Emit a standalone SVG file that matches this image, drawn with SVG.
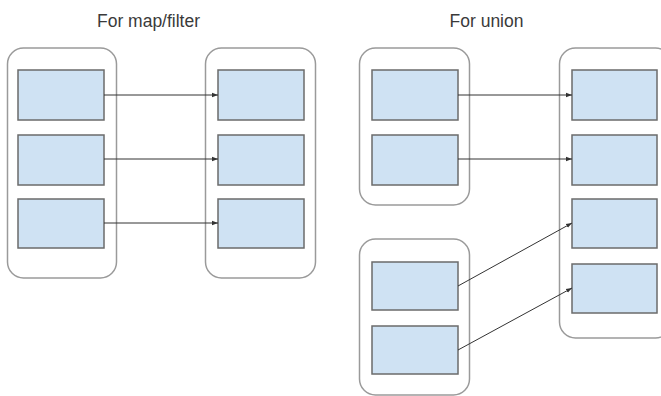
<svg xmlns="http://www.w3.org/2000/svg" width="661" height="396" viewBox="0 0 661 396">
<defs>
<style>
.c{fill:#fff;stroke:#9a9a9a;stroke-width:1.5}
.r{fill:#cfe2f3;stroke:#6b6b6b;stroke-width:1.5}
.t{font-family:"Liberation Sans",Arial,sans-serif;font-size:17.5px;fill:#3a3a3a;text-anchor:middle}
.a{stroke:#333;stroke-width:1;fill:none;marker-end:url(#ah)}
</style>
<marker id="ah" viewBox="0 0 6 6" refX="6" refY="3" markerWidth="6" markerHeight="6" markerUnits="userSpaceOnUse" orient="auto">
<path d="M0,0.8 L6,3 L0,5.2 Z" fill="#333"/>
</marker>
</defs>
<rect width="661" height="396" fill="#fff"/>
<text class="t" x="148.5" y="27">For map/filter</text>
<text class="t" x="486.5" y="27">For union</text>
<g id="mf-left">
<rect class="c" x="7.5" y="48" width="109" height="230" rx="16"/>
<rect class="r" x="18" y="70" width="86" height="50"/>
<rect class="r" x="18" y="135" width="86" height="50"/>
<rect class="r" x="18" y="199" width="86" height="49"/>
</g>
<g id="mf-right">
<rect class="c" x="205.5" y="48" width="110" height="230" rx="16"/>
<rect class="r" x="218" y="70" width="86" height="50"/>
<rect class="r" x="218" y="135" width="86" height="50"/>
<rect class="r" x="218" y="199" width="86" height="49"/>
</g>
<g id="u-left-top">
<rect class="c" x="359.5" y="48" width="110" height="157" rx="16"/>
<rect class="r" x="372" y="70" width="86" height="50"/>
<rect class="r" x="372" y="135" width="86" height="50"/>
</g>
<g id="u-left-bottom">
<rect class="c" x="359.5" y="239" width="110" height="156" rx="16"/>
<rect class="r" x="372" y="262" width="86" height="48"/>
<rect class="r" x="372" y="326" width="86" height="48"/>
</g>
<g id="u-right">
<rect class="c" x="559.5" y="48" width="112" height="290" rx="16"/>
<rect class="r" x="572" y="70" width="85" height="50"/>
<rect class="r" x="572" y="135" width="85" height="50"/>
<rect class="r" x="572" y="199" width="85" height="49"/>
<rect class="r" x="572" y="264" width="85" height="49"/>
</g>
<g id="connectors">
<path class="a" d="M104,95 L218,95"/>
<path class="a" d="M104,159 L218,159"/>
<path class="a" d="M104,223 L218,223"/>
<path class="a" d="M458,95 L572,95"/>
<path class="a" d="M458,159 L572,159"/>
<path class="a" d="M458,286 L572,223"/>
<path class="a" d="M458,350 L572,288"/>
</g>
</svg>
